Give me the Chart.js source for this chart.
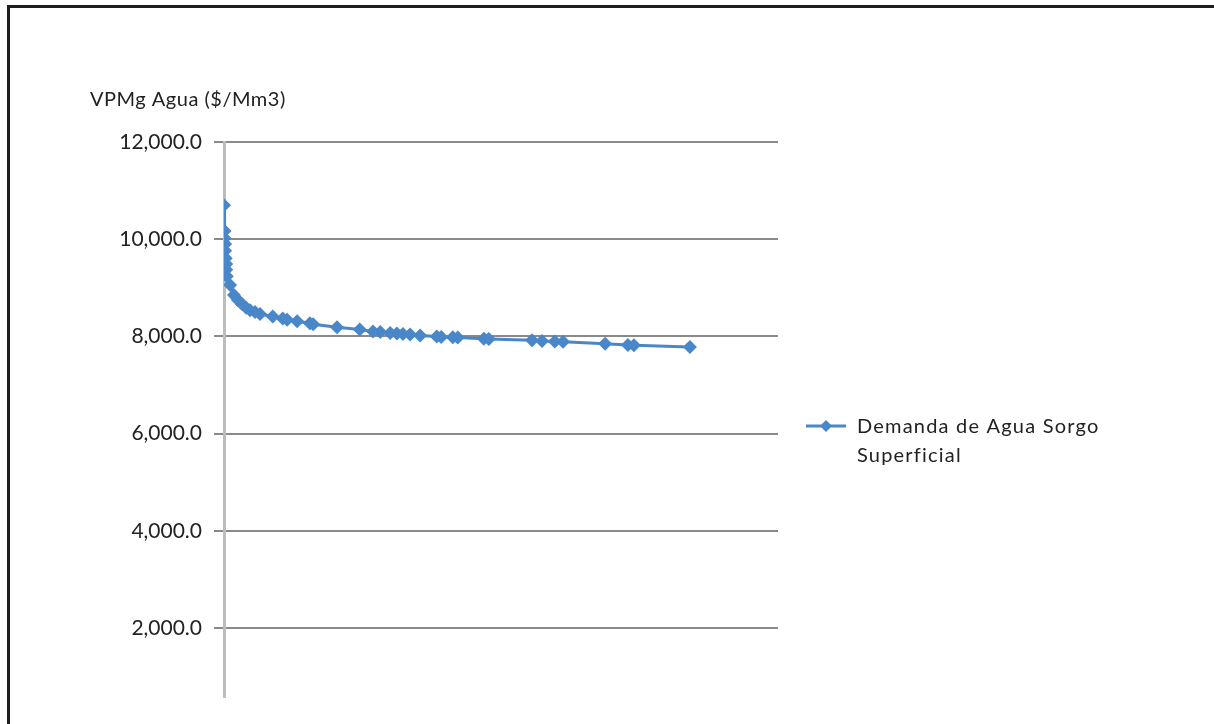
<!DOCTYPE html>
<html>
<head>
<meta charset="utf-8">
<script src="https://cdn.jsdelivr.net/npm/chart.js@4.4.1/dist/chart.umd.min.js"></script>
<style>
  html, body { margin: 0; padding: 0; background: #fff; }
  #wrap { position: relative; width: 1214px; height: 724px; overflow: hidden; }
  #frame { position: absolute; left: 7px; top: 5px; right: -10px; bottom: -10px;
           border-left: 3px solid #1e1e1e; border-top: 3px solid #1e1e1e; pointer-events: none; }
  canvas { position: absolute; left: 0; top: 0; }
</style>
</head>
<body>
<div id="wrap">
  <canvas id="c" width="1214" height="724"></canvas>
  <div id="frame"></div>
</div>
<script>
// ---- data ----
const seriesName = ["Demanda de Agua Sorgo", "Superficial"];
const axisTitle = "VPMg Agua ($/Mm3)";
const yTickValues = [2000, 4000, 6000, 8000, 10000, 12000];
const xValues = [0, 0.1, 0.1, 0.2, 0.2, 0.3, 0.4, 0.4, 0.5, 1.1, 1.8, 2.5, 3.2, 4.0, 4.7, 5.6, 6.5, 8.8, 10.6, 11.4, 13.2, 15.5, 16.1, 20.4, 24.5, 26.9, 28.2, 30.0, 31.2, 32.3, 33.6, 35.4, 38.4, 39.2, 41.3, 42.2, 46.9, 47.8, 55.6, 57.4, 59.7, 61.2, 68.8, 72.9, 74.0, 84.1];
const yValues = [10700, 10170, 10020, 9900, 9760, 9610, 9490, 9370, 9240, 9060, 8850, 8750, 8670, 8590, 8540, 8500, 8460, 8410, 8370, 8340, 8310, 8270, 8250, 8190, 8140, 8100, 8090, 8070, 8060, 8050, 8040, 8020, 8000, 7990, 7980, 7975, 7950, 7945, 7920, 7905, 7895, 7890, 7850, 7825, 7820, 7780];

const blue = '#4a87c9';
const FONT = 'Lato, "Open Sans", sans-serif';

const points = xValues.map((x, i) => ({ x: x, y: yValues[i] }));

const extras = {
  id: 'extras',
  afterDraw(chart) {
    const ctx = chart.ctx;
    const a = chart.chartArea;
    ctx.save();
    ctx.fillStyle = '#222';
    ctx.font = '20px ' + FONT;
    ctx.textBaseline = 'middle';
    ctx.textAlign = 'left';
    ctx.letterSpacing = '0.5px';
    ctx.fillText(axisTitle, a.left - 134, a.top - 42);
    // legend
    const lx = a.right + 28, ly = 426;
    ctx.strokeStyle = blue;
    ctx.lineWidth = 3;
    ctx.beginPath(); ctx.moveTo(lx, ly); ctx.lineTo(lx + 40, ly); ctx.stroke();
    ctx.fillStyle = blue;
    const cx = lx + 20, r = 6;
    ctx.beginPath(); ctx.moveTo(cx, ly - r); ctx.lineTo(cx + r, ly); ctx.lineTo(cx, ly + r); ctx.lineTo(cx - r, ly); ctx.closePath(); ctx.fill();
    ctx.fillStyle = '#222';
    ctx.font = '20px ' + FONT;
    ctx.letterSpacing = '1.2px';
    ctx.fillText(seriesName[0], lx + 51, ly + 1);
    ctx.fillText(seriesName[1], lx + 51, ly + 30);
    ctx.restore();
  }
};

new Chart(document.getElementById('c'), {
  type: 'scatter',
  data: {
    datasets: [{
      label: seriesName.join(' '),
      data: points,
      showLine: true,
      borderColor: blue,
      backgroundColor: blue,
      borderWidth: 3,
      pointStyle: 'rectRot',
      pointRadius: 7,
      pointBorderWidth: 0,
      tension: 0
    }]
  },
  options: {
    responsive: false,
    animation: false,
    layout: { padding: { left: 0, right: 436, top: 142, bottom: 27 } },
    plugins: { legend: { display: false }, tooltip: { enabled: false } },
    scales: {
      x: { type: 'linear', display: false, min: 0, max: 100 },
      y: {
        type: 'linear', min: 580, max: 12000,
        afterBuildTicks(scale) { scale.ticks = yTickValues.map(v => ({ value: v })); },
        afterFit(scale) { scale.width = 224; },
        grid: { color: '#8a8a8a', lineWidth: 2, drawTicks: true, tickLength: 10, tickColor: '#8a8a8a' },
        border: { display: true, color: '#bdbdbd', width: 3 },
        ticks: {
          color: '#222', padding: 12,
          font: { family: FONT, size: 21 },
          callback: v => v.toLocaleString('en-US', { minimumFractionDigits: 1, maximumFractionDigits: 1 })
        }
      }
    }
  },
  plugins: [extras]
});
</script>
</body>
</html>
